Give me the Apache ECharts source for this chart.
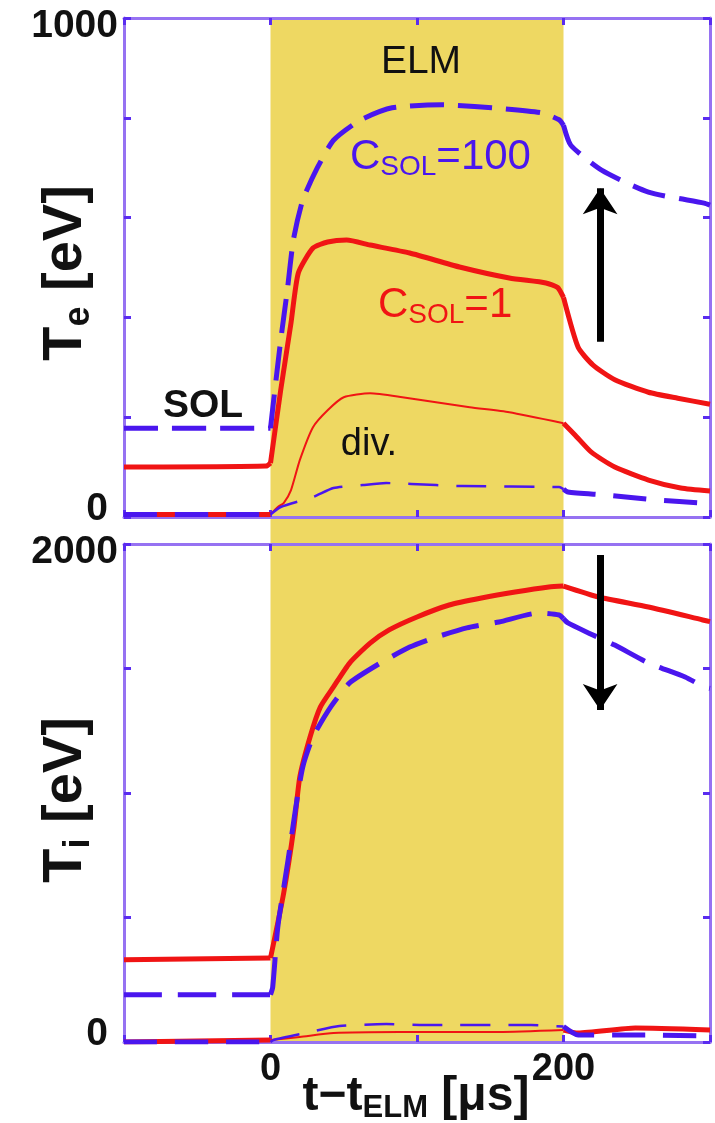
<!DOCTYPE html>
<html><head><meta charset="utf-8">
<script src="https://cdn.jsdelivr.net/npm/echarts@6/dist/echarts.min.js"></script>
<style>html,body{margin:0;padding:0;background:#fff}#c{width:715px;height:1123px}</style>
</head><body><div id="c"></div>
<script>
// ---------- data ----------
const elmWindow = [0, 200];            // ELM phase, t - t_ELM [μs]
const xRange = [-100, 300];
const teRange = [0, 1000];
const tiRange = [0, 2000];

// Top panel: T_e [eV]
const tTeSol100 = [-100, 0, 2, 7, 11.5, 15.6, 22, 32, 43, 61, 83, 117, 151, 185, 197, 200, 205, 226, 258, 296, 300];
const vTeSol100 = [178, 178, 230, 355, 455, 555, 635, 700, 755, 795, 820, 826, 820, 810, 796, 785, 745, 695, 651, 629, 625];
const tTeSol1 = [-100, -3, 0, 7, 14, 19, 29, 39, 52, 68, 95, 129, 163, 188, 196, 200, 210, 220, 235, 258, 278, 300];
const vTeSol1 = [100, 102, 108, 255, 389, 489, 539, 551, 555, 545, 529, 501, 479, 469, 460, 440, 340, 305, 275, 250, 238, 226];
const tTeDiv1 = [-100, 0, 5, 9, 14, 20, 29, 39, 50, 68, 90, 136, 163, 200, 208, 219, 235, 258, 280, 300];
const vTeDiv1 = [5, 5, 20, 28, 54, 114, 180, 214, 240, 248, 240, 220, 210, 188, 164, 130, 100, 74, 58, 52];
const tTeDiv100 = [-100, 0, 7, 29, 43, 63, 79, 113, 131, 197, 200, 203, 228, 264, 294, 300];
const vTeDiv100 = [5, 5, 20, 40, 58, 64, 68, 64, 62, 60, 56, 50, 44, 34, 28, 27];

// Bottom panel: T_i [eV]
const tTiSol1 = [-100, 0, 9, 16, 20, 27, 34, 43, 54, 68, 81, 100, 122, 144, 167, 190, 200, 224, 258, 295, 300];
const vTiSol1 = [330, 337, 598, 863, 1064, 1225, 1345, 1426, 1522, 1602, 1655, 1707, 1755, 1783, 1807, 1827, 1831, 1787, 1747, 1695, 1688];
const tTiSol100 = [-100, 0, 1.5, 5, 12, 17, 22, 29, 41, 54, 75, 95, 111, 134, 156, 183, 197, 200, 203, 217, 235, 258, 283, 296, 300];
const vTiSol100 = [190, 190, 220, 462, 731, 932, 1104, 1225, 1345, 1442, 1522, 1586, 1622, 1663, 1687, 1723, 1715, 1700, 1683, 1643, 1594, 1522, 1466, 1426, 1420];
const tTiDiv1 = [-100, 0, 20, 43, 88, 156, 200, 210, 249, 300];
const vTiDiv1 = [0, 8, 20, 36, 40, 40, 48, 36, 56, 48];
const tTiDiv100 = [-100, 0, 2, 27, 47, 79, 111, 178, 200, 210, 260, 300];
const vTiDiv100 = [0, 0, 8, 40, 64, 72, 68, 68, 62, 28, 28, 24];

// arrows (t, T) : [t, from, to]
const arrowTe = [225, 351, 659];
const arrowTi = [225, 1956, 1333];

// ---------- styling ----------
const BLUE = '#4a16ee', RED = '#f01414', AXIS = '#9672f2', TICK = '#5a2cf0', BAND = '#eed862', INK = '#111';
const FONT = '"Liberation Sans", Arial, Helvetica, sans-serif';

function pts(ts, vs, a, b) {
  const out = [];
  for (let i = 0; i < ts.length; i++) if (ts[i] >= a && ts[i] <= b) out.push([ts[i], vs[i]]);
  return out;
}
function line(panel, data, color, width, dash, z, extra) {
  return Object.assign({
    type: 'line', xAxisIndex: panel === 0 ? 0 : 2, yAxisIndex: panel === 0 ? 0 : 2,
    data, showSymbol: false, symbol: 'none', z: z || 3, silent: true, animation: false,
    smooth: 0.2,
    lineStyle: { color, width, type: dash || 'solid', cap: 'butt', join: 'round' }
  }, extra || {});
}
function xAx(gridIndex, position, labels) {
  return {
    type: 'value', gridIndex, position, min: xRange[0], max: xRange[1], interval: 100, z: 1,
    axisLine: { show: true, onZero: false, lineStyle: { color: AXIS, width: 3 } },
    axisTick: { show: true, inside: true, length: 7, lineStyle: { color: TICK, width: 3 } },
    splitLine: { show: false },
    axisLabel: labels ? {
      show: true, margin: 13, fontFamily: FONT, fontSize: 38, fontWeight: 'bold', color: INK, lineHeight: 30,
      formatter: v => (v === elmWindow[0] || v === elmWindow[1]) ? String(v) : ''
    } : { show: false }
  };
}
function yAx(gridIndex, position, range, interval, labels) {
  return {
    type: 'value', gridIndex, position, min: range[0], max: range[1], interval, z: 1,
    axisLine: { show: true, onZero: false, lineStyle: { color: AXIS, width: 3 } },
    axisTick: { show: true, inside: true, length: 7, lineStyle: { color: TICK, width: 3 } },
    splitLine: { show: false },
    axisLabel: labels ? {
      show: true, margin: 6, fontFamily: FONT, fontSize: 39, fontWeight: 'bold', color: INK, lineHeight: 16,
      showMinLabel: true, showMaxLabel: true,
      verticalAlignMinLabel: 'bottom', verticalAlignMaxLabel: 'top',
      formatter: v => v === range[1] ? String(v) : (v === range[0] ? '{m|' + v + '}' : ''),
      rich: { m: { fontFamily: FONT, fontSize: 39, fontWeight: 'bold', color: INK, padding: [0, 10, 0, 0] } }
    } : { show: false }
  };
}
// three phases: before, during, after the ELM
function phases(panel, ts, vs, color, wOut, wIn, dashOut, dashIn, z, extra) {
  return [
    line(panel, pts(ts, vs, xRange[0], elmWindow[0]), color, wOut, dashOut, z, extra),
    line(panel, pts(ts, vs, elmWindow[0], elmWindow[1]), color, wIn, dashIn, z),
    line(panel, pts(ts, vs, elmWindow[1], xRange[1]), color, wOut, dashOut, z)
  ];
}
function arrow(a) {
  return {
    markLine: {
      silent: true, symbol: ['none', 'arrow'], symbolSize: 26, label: { show: false },
      lineStyle: { color: '#000', width: 7, type: 'solid' },
      data: [[{ coord: [a[0], a[1]] }, { coord: [a[0], a[2]] }]]
    }
  };
}

const series = [
  // ELM band spanning both panels
  {
    type: 'line', xAxisIndex: 4, yAxisIndex: 4, z: 0, silent: true, showSymbol: false, symbol: 'none',
    data: [[elmWindow[0], 0], [elmWindow[1], 0]], lineStyle: { opacity: 0, width: 0 },
    markArea: { silent: true, itemStyle: { color: BAND }, data: [[{ xAxis: elmWindow[0] }, { xAxis: elmWindow[1] }]] }
  },
  // top panel
  ...phases(0, tTeDiv1, vTeDiv1, RED, 5, 2, 'solid', 'solid', 3),
  ...phases(0, tTeDiv100, vTeDiv100, BLUE, 5, 2.5, [33, 18], [30, 18], 4),
  ...phases(0, tTeSol1, vTeSol1, RED, 5, 5, 'solid', 'solid', 3, arrow(arrowTe)),
  ...phases(0, tTeSol100, vTeSol100, BLUE, 5, 5, [34, 14], [34, 14], 4),
  // bottom panel
  ...phases(1, tTiDiv1, vTiDiv1, RED, 5, 2, 'solid', 'solid', 3),
  ...phases(1, tTiDiv100, vTiDiv100, BLUE, 5, 2.5, [33, 18], [30, 18], 4),
  ...phases(1, tTiSol1, vTiSol1, RED, 5, 5, 'solid', 'solid', 3, arrow(arrowTi)),
  ...phases(1, tTiSol100, vTiSol100, BLUE, 5, 5, [38, 16], [38, 16], 4)
];

function rt(main, sub, rest, mainSize, subSize, weight, color) {
  return {
    text: '{a|' + main + '}{b|' + sub + '}{a|' + rest + '}',
    rich: {
      a: { fontFamily: FONT, fontSize: mainSize, fontWeight: weight, fill: color, lineHeight: mainSize + 6 },
      b: { fontFamily: FONT, fontSize: subSize, fontWeight: weight, fill: color, lineHeight: 14, verticalAlign: 'bottom' }
    }
  };
}

const option = {
  animation: false,
  backgroundColor: '#fff',
  grid: [
    { left: 124, top: 18, width: 586, height: 499 },
    { left: 124, top: 544, width: 586, height: 498 },
    { left: 124, top: 18, width: 586, height: 1024 }
  ],
  xAxis: [
    xAx(0, 'bottom', false), xAx(0, 'top', false),
    xAx(1, 'bottom', true), xAx(1, 'top', false),
    { type: 'value', gridIndex: 2, min: xRange[0], max: xRange[1], show: false }
  ],
  yAxis: [
    yAx(0, 'left', teRange, 200, true), yAx(0, 'right', teRange, 200, false),
    yAx(1, 'left', tiRange, 500, true), yAx(1, 'right', tiRange, 500, false),
    { type: 'value', gridIndex: 2, min: 0, max: 1, show: false }
  ],
  series,
  graphic: [
    { type: 'text', x: 421, y: 62, z: 10, style: { text: 'ELM', font: '39px ' + FONT, fill: INK, align: 'center', verticalAlign: 'middle' } },
    { type: 'text', x: 350, y: 133, z: 10, style: Object.assign(rt('C', 'SOL', '=100', 42, 28, 'normal', BLUE), { align: 'left', verticalAlign: 'top' }) },
    { type: 'text', x: 378, y: 281, z: 10, style: Object.assign(rt('C', 'SOL', '=1', 42, 28, 'normal', RED), { align: 'left', verticalAlign: 'top' }) },
    { type: 'text', x: 203, y: 406, z: 10, style: { text: 'SOL', font: 'bold 39px ' + FONT, fill: INK, align: 'center', verticalAlign: 'middle' } },
    { type: 'text', x: 369, y: 445, z: 10, style: { text: 'div.', font: '38px ' + FONT, fill: INK, align: 'center', verticalAlign: 'middle' } },
    { type: 'text', x: 66, y: 273, rotation: Math.PI / 2, z: 10, style: Object.assign(rt('T', 'e', ' [eV]', 56, 36, 'bold', INK), { align: 'center', verticalAlign: 'middle' }) },
    { type: 'text', x: 66, y: 800, rotation: Math.PI / 2, z: 10, style: Object.assign(rt('T', 'i', ' [eV]', 56, 36, 'bold', INK), { align: 'center', verticalAlign: 'middle' }) },
    { type: 'text', x: 416, y: 1097, z: 10, style: Object.assign(rt('t\u2212t', 'ELM', ' [\u03bcs]', 48, 31, 'bold', INK), { align: 'center', verticalAlign: 'middle' }) }
  ]
};

const chart = echarts.init(document.getElementById('c'), null, { renderer: 'canvas' });
chart.setOption(option);
</script>
</body></html>
